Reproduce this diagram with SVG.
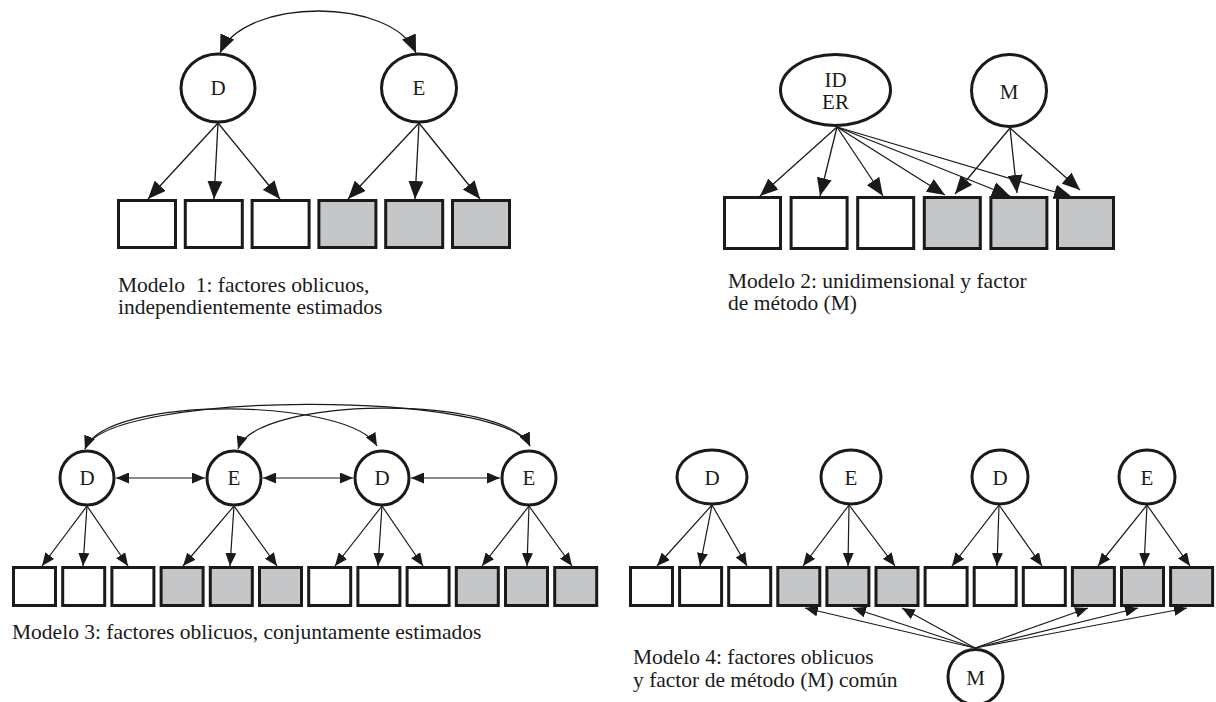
<svg xmlns="http://www.w3.org/2000/svg" width="1216" height="702" viewBox="0 0 1216 702">
<style>
  .lat { fill: #ffffff; stroke: #1a1a1a; stroke-width: 3; }
  .obs { fill: #ffffff; stroke: #1a1a1a; stroke-width: 3; }
  .obs.g { fill: #c5c6c8; }
  .lbl { font-family: "Liberation Serif", "Times New Roman", serif; font-size: 21px; fill: #1a1a1a; text-anchor: middle; }
  .cap { font-family: "Liberation Serif", "Times New Roman", serif; font-size: 21.5px; fill: #1a1a1a; white-space: pre; }
  .big { fill: none; stroke: #1a1a1a; stroke-width: 1.3; marker-end: url(#ahB); }
  .sm { fill: none; stroke: #1a1a1a; stroke-width: 1.2; marker-end: url(#ahS); }
  .smd { fill: none; stroke: #1a1a1a; stroke-width: 1.2; marker-end: url(#ahS); marker-start: url(#ahS); }
  .bigd { fill: none; stroke: #1a1a1a; stroke-width: 1.3; marker-end: url(#ahB); marker-start: url(#ahB); }
</style>
<defs>
  <marker id="ahB" markerUnits="userSpaceOnUse" markerWidth="18" markerHeight="15" refX="18" refY="7.5" orient="auto-start-reverse">
    <path d="M0,0 L18,7.5 L0,15 z" fill="#1a1a1a"/>
  </marker>
  <marker id="ahS" markerUnits="userSpaceOnUse" markerWidth="13" markerHeight="11" refX="13" refY="5.5" orient="auto-start-reverse">
    <path d="M0,0 L13,5.5 L0,11 z" fill="#1a1a1a"/>
  </marker>
</defs>
<rect width="1216" height="702" fill="#ffffff"/>

<g id="connectors">
  <!-- Model 1 -->
  <path class="bigd" d="M220,53 C245,-3 392,-3 416,53"/>
  <line class="big" x1="218" y1="123" x2="148" y2="199"/>
  <line class="big" x1="218" y1="123" x2="214" y2="199"/>
  <line class="big" x1="218" y1="123" x2="280" y2="199"/>
  <line class="big" x1="419" y1="123" x2="348" y2="199"/>
  <line class="big" x1="419" y1="123" x2="415" y2="199"/>
  <line class="big" x1="419" y1="123" x2="480" y2="199"/>
  <!-- Model 2 -->
  <line class="big" x1="837" y1="127" x2="760" y2="196"/>
  <line class="big" x1="837" y1="127" x2="820" y2="196"/>
  <line class="big" x1="837" y1="127" x2="883" y2="196"/>
  <line class="big" x1="837" y1="127" x2="945" y2="195"/>
  <line class="big" x1="837" y1="127" x2="1010" y2="196"/>
  <line class="big" x1="837" y1="127" x2="1072" y2="197"/>
  <line class="big" x1="1010" y1="128" x2="955" y2="194"/>
  <line class="big" x1="1010" y1="128" x2="1017" y2="193"/>
  <line class="big" x1="1010" y1="128" x2="1080" y2="190"/>
  <!-- Model 3 correlations -->
  <path class="smd" d="M85,449 C108,390 505,390 530,446"/>
  <path class="smd" d="M85,449 C106,394 350,398 377,446"/>
  <path class="smd" d="M238,449 C255,396 505,394 530,446"/>
  <line class="smd" x1="116" y1="478" x2="205" y2="478"/>
  <line class="smd" x1="263" y1="478" x2="353" y2="478"/>
  <line class="smd" x1="411" y1="478" x2="500" y2="478"/>
  <!-- Model 3 loadings -->
  <line class="sm" x1="87" y1="506" x2="42" y2="566"/>
  <line class="sm" x1="87" y1="506" x2="83" y2="566"/>
  <line class="sm" x1="87" y1="506" x2="128" y2="566"/>
  <line class="sm" x1="234" y1="506" x2="183" y2="566"/>
  <line class="sm" x1="234" y1="506" x2="230" y2="566"/>
  <line class="sm" x1="234" y1="506" x2="277" y2="566"/>
  <line class="sm" x1="382" y1="506" x2="335" y2="566"/>
  <line class="sm" x1="382" y1="506" x2="378" y2="566"/>
  <line class="sm" x1="382" y1="506" x2="423" y2="566"/>
  <line class="sm" x1="529" y1="506" x2="482" y2="566"/>
  <line class="sm" x1="529" y1="506" x2="527" y2="566"/>
  <line class="sm" x1="529" y1="506" x2="572" y2="566"/>
  <!-- Model 4 loadings -->
  <line class="sm" x1="712" y1="505" x2="657" y2="566"/>
  <line class="sm" x1="712" y1="505" x2="700" y2="566"/>
  <line class="sm" x1="712" y1="505" x2="747" y2="566"/>
  <line class="sm" x1="849" y1="505" x2="803" y2="566"/>
  <line class="sm" x1="849" y1="505" x2="848" y2="566"/>
  <line class="sm" x1="849" y1="505" x2="895" y2="566"/>
  <line class="sm" x1="999" y1="505" x2="952" y2="566"/>
  <line class="sm" x1="999" y1="505" x2="997" y2="566"/>
  <line class="sm" x1="999" y1="505" x2="1042" y2="566"/>
  <line class="sm" x1="1147" y1="505" x2="1098" y2="566"/>
  <line class="sm" x1="1147" y1="505" x2="1144" y2="566"/>
  <line class="sm" x1="1147" y1="505" x2="1190" y2="566"/>
  <!-- Model 4 method factor -->
  <line class="sm" x1="975" y1="648" x2="805" y2="608"/>
  <line class="sm" x1="975" y1="648" x2="853" y2="608"/>
  <line class="sm" x1="975" y1="648" x2="902" y2="608"/>
  <line class="sm" x1="975" y1="648" x2="1088" y2="608"/>
  <line class="sm" x1="975" y1="648" x2="1138" y2="608"/>
  <line class="sm" x1="975" y1="648" x2="1187" y2="608"/>
</g>

<!-- Model 1 -->
<g id="m1-D"><ellipse class="lat" cx="218" cy="88" rx="37" ry="34"/><text class="lbl" x="218" y="95">D</text></g>
<g id="m1-E"><ellipse class="lat" cx="419" cy="88" rx="37.5" ry="34"/><text class="lbl" x="419" y="95">E</text></g>
<g id="m1-items">
  <rect class="obs" x="118.5" y="200.5" width="57" height="47"/>
  <rect class="obs" x="185.3" y="200.5" width="57" height="47"/>
  <rect class="obs" x="252.1" y="200.5" width="57" height="47"/>
  <rect class="obs g" x="318.9" y="200.5" width="57" height="47"/>
  <rect class="obs g" x="385.7" y="200.5" width="57" height="47"/>
  <rect class="obs g" x="452.5" y="200.5" width="57" height="47"/>
</g>
<text class="cap" x="118" y="292">Modelo  1: factores oblicuos,</text>
<text class="cap" x="118" y="314">independientemente estimados</text>

<!-- Model 2 -->
<g id="m2-IDER"><ellipse class="lat" cx="835.5" cy="90" rx="55" ry="35.5"/><text class="lbl" x="835.5" y="87">ID</text><text class="lbl" x="835.5" y="109">ER</text></g>
<g id="m2-M"><ellipse class="lat" cx="1009" cy="90.5" rx="37.5" ry="36"/><text class="lbl" x="1009" y="99">M</text></g>
<g id="m2-items">
  <rect class="obs" x="724.5" y="197.5" width="56" height="51"/>
  <rect class="obs" x="791.1" y="197.5" width="56" height="51"/>
  <rect class="obs" x="857.7" y="197.5" width="56" height="51"/>
  <rect class="obs g" x="924.3" y="197.5" width="56" height="51"/>
  <rect class="obs g" x="990.9" y="197.5" width="56" height="51"/>
  <rect class="obs g" x="1057.5" y="197.5" width="56" height="51"/>
</g>
<text class="cap" x="728" y="288">Modelo 2: unidimensional y factor</text>
<text class="cap" x="728" y="310">de método (M)</text>

<!-- Model 3 -->
<g id="m3-D1"><circle class="lat" cx="87" cy="478" r="27"/><text class="lbl" x="87" y="485">D</text></g>
<g id="m3-E1"><circle class="lat" cx="234" cy="478" r="27"/><text class="lbl" x="234" y="485">E</text></g>
<g id="m3-D2"><circle class="lat" cx="382" cy="478" r="27"/><text class="lbl" x="382" y="485">D</text></g>
<g id="m3-E2"><circle class="lat" cx="529" cy="478" r="27"/><text class="lbl" x="529" y="485">E</text></g>
<g id="m3-items">
  <rect class="obs" x="13.5" y="567.5" width="42" height="38"/>
  <rect class="obs" x="62.7" y="567.5" width="42" height="38"/>
  <rect class="obs" x="111.9" y="567.5" width="42" height="38"/>
  <rect class="obs g" x="161.1" y="567.5" width="42" height="38"/>
  <rect class="obs g" x="210.3" y="567.5" width="42" height="38"/>
  <rect class="obs g" x="259.5" y="567.5" width="42" height="38"/>
  <rect class="obs" x="308.7" y="567.5" width="42" height="38"/>
  <rect class="obs" x="357.9" y="567.5" width="42" height="38"/>
  <rect class="obs" x="407.1" y="567.5" width="42" height="38"/>
  <rect class="obs g" x="456.3" y="567.5" width="42" height="38"/>
  <rect class="obs g" x="505.5" y="567.5" width="42" height="38"/>
  <rect class="obs g" x="554.7" y="567.5" width="42" height="38"/>
</g>
<text class="cap" x="12" y="639">Modelo 3: factores oblicuos, conjuntamente estimados</text>

<!-- Model 4 -->
<g id="m4-D1"><ellipse class="lat" cx="712" cy="477" rx="35" ry="27"/><text class="lbl" x="712" y="485">D</text></g>
<g id="m4-E1"><ellipse class="lat" cx="851" cy="477" rx="30" ry="27"/><text class="lbl" x="851" y="485">E</text></g>
<g id="m4-D2"><ellipse class="lat" cx="1000" cy="477" rx="28" ry="27"/><text class="lbl" x="1000" y="485">D</text></g>
<g id="m4-E2"><ellipse class="lat" cx="1147" cy="477" rx="28" ry="27"/><text class="lbl" x="1147" y="485">E</text></g>
<g id="m4-M"><circle class="lat" cx="975.5" cy="677" r="27.5"/><text class="lbl" x="975.5" y="685">M</text></g>
<g id="m4-items">
  <rect class="obs" x="630.5" y="567.5" width="42" height="38"/>
  <rect class="obs" x="679.6" y="567.5" width="42" height="38"/>
  <rect class="obs" x="728.7" y="567.5" width="42" height="38"/>
  <rect class="obs g" x="777.8" y="567.5" width="42" height="38"/>
  <rect class="obs g" x="826.9" y="567.5" width="42" height="38"/>
  <rect class="obs g" x="876" y="567.5" width="42" height="38"/>
  <rect class="obs" x="925.1" y="567.5" width="42" height="38"/>
  <rect class="obs" x="974.2" y="567.5" width="42" height="38"/>
  <rect class="obs" x="1023.3" y="567.5" width="42" height="38"/>
  <rect class="obs g" x="1072.4" y="567.5" width="42" height="38"/>
  <rect class="obs g" x="1121.5" y="567.5" width="42" height="38"/>
  <rect class="obs g" x="1170.6" y="567.5" width="42" height="38"/>
</g>
<text class="cap" x="633" y="664">Modelo 4: factores oblicuos</text>
<text class="cap" x="633" y="687">y factor de método (M) común</text>
</svg>
